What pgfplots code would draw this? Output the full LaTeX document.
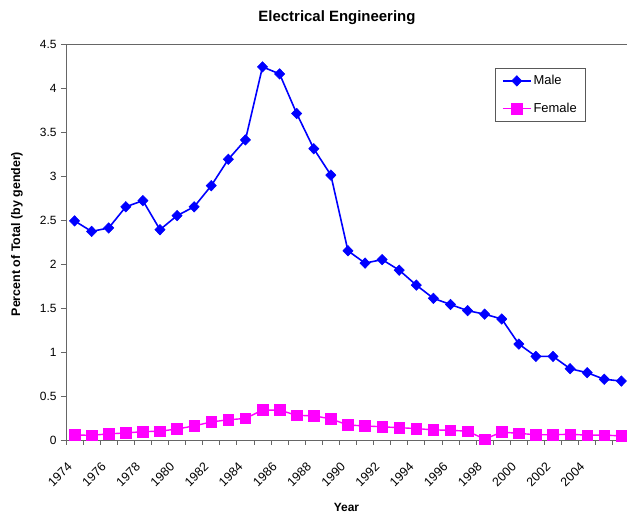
\documentclass[border=0pt]{standalone}
\usepackage{fontspec}
\setmainfont{Liberation Sans}
\usepackage{pgfplots}
\pgfplotsset{compat=1.18}
\usepackage{pgfplotstable}
\definecolor{maleblue}{RGB}{0,0,255}
\definecolor{femmag}{RGB}{255,0,255}
\pgfplotstableread{
x male female
0 2.49 0.057
1 2.37 0.053
2 2.41 0.070
3 2.65 0.080
4 2.72 0.095
5 2.39 0.100
6 2.55 0.125
7 2.65 0.160
8 2.89 0.205
9 3.19 0.230
10 3.41 0.245
11 4.24 0.340
12 4.16 0.340
13 3.71 0.280
14 3.31 0.275
15 3.01 0.240
16 2.15 0.170
17 2.01 0.160
18 2.05 0.150
19 1.93 0.140
20 1.76 0.130
21 1.61 0.115
22 1.54 0.110
23 1.47 0.100
24 1.43 0.010
25 1.375 0.090
26 1.09 0.075
27 0.95 0.060
28 0.95 0.060
29 0.81 0.065
30 0.765 0.055
31 0.69 0.055
32 0.67 0.047
}\datatable
\begin{document}
\begin{tikzpicture}[x=1bp,y=1bp]
\begin{axis}[
  at={(66bp,77bp)}, anchor=south west,
  scale only axis,
  width=561bp, height=396bp,
  xmin=-0.5, xmax=32.33,
  ymin=0, ymax=4.5,
  axis x line=bottom, axis y line=left,
  axis line style={draw=black!60, line width=0.8pt, -},
  ytick={0,0.5,...,4.5},
  yticklabels={0,0.5,1,1.5,2,2.5,3,3.5,4,4.5},
  y tick label style={font=\fontsize{12}{12}\selectfont, xshift=-1bp},
  ytick style={draw=black!60, line width=0.8pt},
  tick align=outside,
  major tick length=5bp,
  xtick={0,2,...,30},
  xticklabels={1974,1976,1978,1980,1982,1984,1986,1988,1990,1992,1994,1996,1998,2000,2002,2004},
  xtick style={draw=none},
  minor xtick={-0.5,0.5,...,32.5},
  minor x tick style={draw=black!60, line width=0.8pt},
  minor tick length=5bp,
  x tick label style={font=\fontsize{12.5}{12.5}\selectfont, xshift=-8bp, yshift=-16bp, rotate=45, anchor=north east, inner sep=0pt},
  xlabel={\bfseries Year},
  xlabel style={font=\fontsize{12}{12}\selectfont, at={(0.5,0)}, anchor=base, yshift=-71bp},
  ylabel={\bfseries Percent of Total (by gender)},
  ylabel style={font=\fontsize{12.5}{12.5}\selectfont, at={(0,0.52)}, anchor=base, yshift=46bp},
  title={\bfseries Electrical Engineering},
  title style={font=\fontsize{15}{15}\selectfont, at={(0.483,1)}, anchor=base, yshift=17bp},
  legend style={at={(0.927,0.939)}, anchor=north east, draw=black!65, line width=0.6pt,
    font=\fontsize{13}{13}\selectfont, row sep=13bp, inner xsep=7bp, inner ysep=5bp},
  legend image code/.code={
    \draw[mark repeat=2,mark phase=2,#1] plot coordinates {(0bp,0bp) (14bp,0bp) (28bp,0bp)};},
  legend cell align=left,
  clip=false,
]
\addplot[maleblue, line width=1.6pt, mark=diamond*, mark size=5.2bp, mark options={fill=maleblue, xscale=1.3, line width=0.6pt}] table[x=x,y=male]{\datatable};
\addlegendentry{Male}
\addplot[femmag, line width=1.4pt, mark=square*, mark size=5.3bp, mark options={fill=femmag, line width=0.6pt}] table[x=x,y=female]{\datatable};
\addlegendentry{Female}
\draw[black!60, line width=0.8pt] (rel axis cs:0,1) -- (rel axis cs:1,1);
\end{axis}
\pgfresetboundingbox
\useasboundingbox (0,0) rectangle (627bp,517bp);
\end{tikzpicture}
\end{document}
